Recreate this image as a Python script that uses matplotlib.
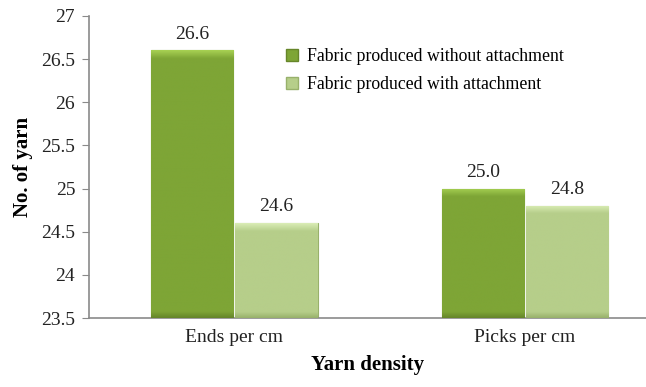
import numpy as np
import matplotlib

matplotlib.use("Agg")
import matplotlib.pyplot as plt
from matplotlib.colors import LinearSegmentedColormap
from matplotlib.patches import Patch

plt.rcParams["font.family"] = ["Liberation Serif", "DejaVu Serif"]

categories = ["Ends per cm", "Picks per cm"]
series_names = ["Fabric produced without attachment", "Fabric produced with attachment"]
without_att = [26.6, 25.0]
with_att = [24.6, 24.8]
yticks = [23.5, 24, 24.5, 25, 25.5, 26, 26.5, 27]

# bottom / body / top-bevel shades per series
shades = [("#66862A", "#7EA536", "#A6D052"), ("#98B16B", "#B6CE8A", "#DAEDB6")]

fig = plt.figure(figsize=(6.46, 3.87), dpi=100)
ax = fig.add_axes([0.1378, 0.178, 0.8622, 0.781])

x = np.arange(len(categories))
width = 0.283
offsets = [-0.145, 0.145]
ybase = 23.5
px_per_unit = 0.781 * 387 / (27 - 23.5)

for vals, off, (c_bot, c_mid, c_top) in zip([without_att, with_att], offsets, shades):
    bars = ax.bar(x + off, np.array(vals) - ybase, width, bottom=ybase,
                  color=c_mid, edgecolor=c_bot, linewidth=0.8, zorder=2)
    for b, v in zip(bars, vals):
        x0, w = b.get_x(), b.get_width()
        # ~8 px bevel at the top, ~6 px darker band at the base
        h_px = (v - ybase) * px_per_unit
        lo, hi = 6 / h_px, 1 - 8 / h_px
        cmap = LinearSegmentedColormap.from_list(
            "bevel", [(0, c_bot), (lo, c_mid), (hi, c_mid), (1, c_top)])
        grad = np.linspace(0, 1, 512).reshape(-1, 1)
        im = ax.imshow(grad, cmap=cmap, aspect="auto", origin="lower",
                       extent=[x0, x0 + w, ybase, v], zorder=3)
        im.set_clip_path(b)
        ax.text(x0 + w / 2, v + 0.09, f"{v:.1f}", ha="center", va="bottom",
                fontsize=14, color="#222222", zorder=4)

ax.set_xlim(-0.5, 1.417)
ax.set_ylim(23.5, 27)
ax.set_yticks(yticks)
ax.set_yticklabels([f"{t:g}" for t in yticks])
ax.set_xticks(x)
ax.set_xticklabels(categories)
ax.tick_params(axis="x", length=0, pad=8, labelsize=14, colors="#222222")
ax.tick_params(axis="y", length=5, color="#8a8a8a", labelsize=14,
               labelcolor="#222222", pad=5)
for s in ["top", "right"]:
    ax.spines[s].set_visible(False)
for s in ["left", "bottom"]:
    ax.spines[s].set_color("#8a8a8a")
    ax.spines[s].set_linewidth(1.2)

ax.set_ylabel("No. of yarn", fontsize=15, fontweight="bold", labelpad=6)
ax.set_xlabel("Yarn density", fontsize=15, fontweight="bold", labelpad=6)

handles = [Patch(facecolor=shades[i][1], edgecolor=shades[i][0]) for i in range(2)]
ax.legend(handles, series_names, loc="upper left", bbox_to_anchor=(0.325, 0.945),
          frameon=False, fontsize=12.8, handlelength=0.7, handleheight=0.7,
          handletextpad=0.5, labelspacing=0.6)

fig.savefig("out.png", dpi=100)
